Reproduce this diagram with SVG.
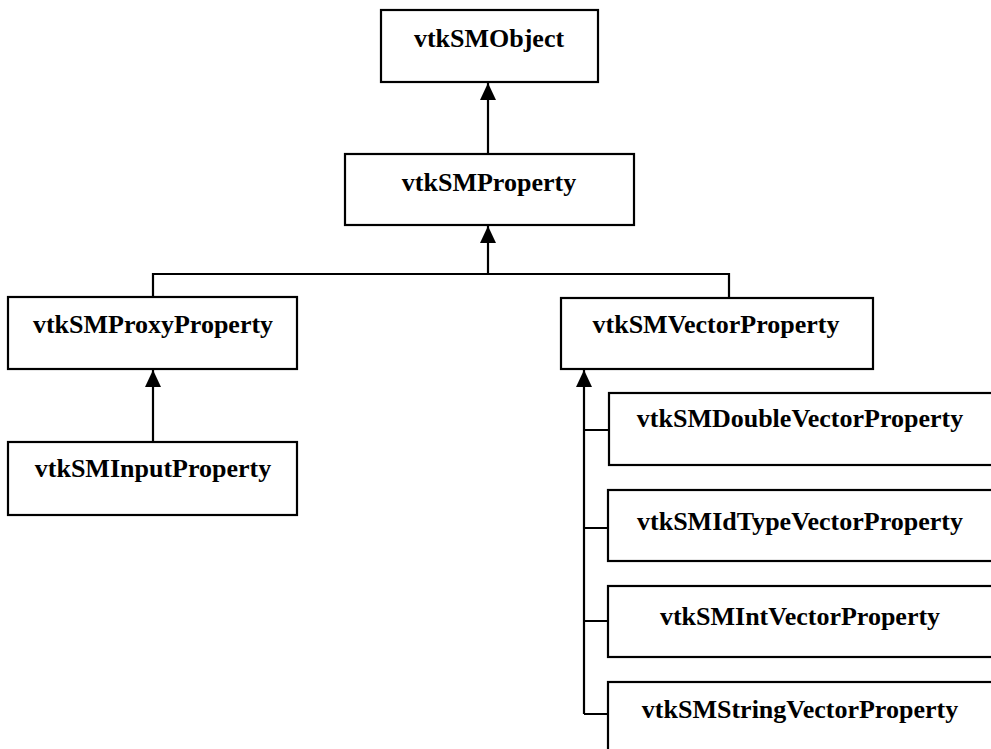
<svg xmlns="http://www.w3.org/2000/svg" width="991" height="749" viewBox="0 0 991 749">
<style>
.box{fill:#fff;stroke:#000;stroke-width:2.2}
.lbl{font-family:"Liberation Serif","Times New Roman",serif;font-weight:bold;font-size:26px;fill:#000;text-anchor:middle}
.ln{fill:none;stroke:#000;stroke-width:2.2}
</style>
<defs>
<marker id="ah" markerWidth="16" markerHeight="17" refX="8" refY="0" orient="0" markerUnits="userSpaceOnUse" viewBox="0 0 16 17">
<path d="M0,17 L8,0 L16,17 Z" fill="#000"/>
</marker>
</defs>
<rect width="991" height="749" fill="#fff"/>
<g id="connectors">
<line class="ln" x1="488" y1="154" x2="488" y2="83" marker-end="url(#ah)"/>
<path class="ln" d="M153,297 V274 H729 V297"/>
<line class="ln" x1="488" y1="274" x2="488" y2="226" marker-end="url(#ah)"/>
<line class="ln" x1="153" y1="442" x2="153" y2="370" marker-end="url(#ah)"/>
<line class="ln" x1="584" y1="714" x2="584" y2="370" marker-end="url(#ah)"/>
<path class="ln" d="M584,430 H609 M584,528 H608 M584,621 H608 M584,714 H608"/>
</g>
<g id="vtkSMObject"><rect class="box" x="381" y="10" width="217" height="72"/><text class="lbl" x="489" y="47">vtkSMObject</text></g>
<g id="vtkSMProperty"><rect class="box" x="345" y="154" width="289" height="71"/><text class="lbl" x="489" y="191">vtkSMProperty</text></g>
<g id="vtkSMProxyProperty"><rect class="box" x="8" y="297" width="289" height="72"/><text class="lbl" x="153" y="333">vtkSMProxyProperty</text></g>
<g id="vtkSMInputProperty"><rect class="box" x="8" y="442" width="289" height="73"/><text class="lbl" x="153" y="477">vtkSMInputProperty</text></g>
<g id="vtkSMVectorProperty"><rect class="box" x="561" y="298" width="312" height="71"/><text class="lbl" x="716" y="333">vtkSMVectorProperty</text></g>
<g id="vtkSMDoubleVectorProperty"><rect class="box" x="609" y="393" width="400" height="72"/><text class="lbl" x="800" y="427">vtkSMDoubleVectorProperty</text></g>
<g id="vtkSMIdTypeVectorProperty"><rect class="box" x="608" y="490" width="400" height="71"/><text class="lbl" x="800" y="530">vtkSMIdTypeVectorProperty</text></g>
<g id="vtkSMIntVectorProperty"><rect class="box" x="608" y="586" width="400" height="71"/><text class="lbl" x="800" y="625">vtkSMIntVectorProperty</text></g>
<g id="vtkSMStringVectorProperty"><rect class="box" x="608" y="682" width="400" height="80"/><text class="lbl" x="800" y="718">vtkSMStringVectorProperty</text></g>
</svg>
